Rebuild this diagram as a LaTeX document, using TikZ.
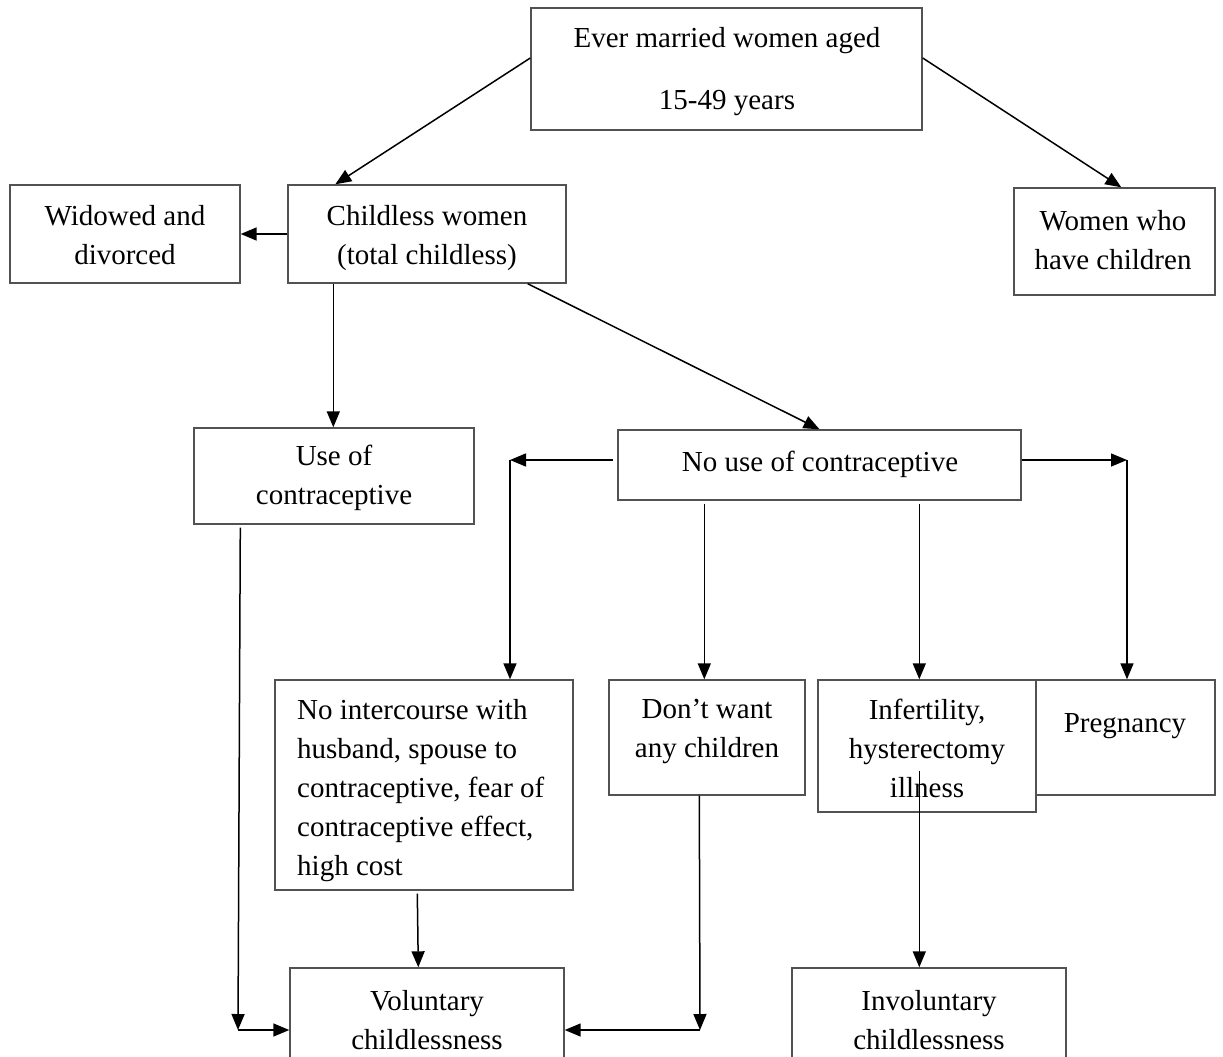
\documentclass[tikz,border=0pt]{standalone}
\usepackage{fontspec}
\setmainfont{Liberation Serif}
\usetikzlibrary{calc,arrows.meta}
\begin{document}
\begin{tikzpicture}[x=1pt,y=-1pt,
  box/.style={draw=black!68,line width=1.4pt,rectangle,inner sep=0pt},
  txt/.style={inner sep=0pt,align=center,font=\fontsize{29}{39}\selectfont},
  arr/.style={draw=black,line width=1.5pt,-{Triangle[length=16pt,width=13pt]}},
  ln/.style={draw=black,line width=1.5pt}]
\useasboundingbox[fill=white] (0,0) rectangle (1223,1057);
% boxes (center x, center y, width, height)
\node[box,minimum width=391pt,minimum height=122pt] (topbox) at (726.5,69) {};
\node[box,minimum width=230pt,minimum height=98pt] (widbox) at (125,234) {};
\node[box,minimum width=278pt,minimum height=98pt] (childbox) at (427,234) {};
\node[box,minimum width=201pt,minimum height=107pt] (havebox) at (1114.5,241.5) {};
\node[box,minimum width=280pt,minimum height=96pt] (usebox) at (334,476) {};
\node[box,minimum width=403pt,minimum height=70pt] (nousebox) at (819.5,465) {};
\node[box,minimum width=298pt,minimum height=210pt] (interbox) at (424,785) {};
\node[box,minimum width=196pt,minimum height=115pt] (dontbox) at (707,737.5) {};
\node[box,minimum width=218pt,minimum height=132pt] (infbox) at (927,746) {};
\node[box,minimum width=179pt,minimum height=115pt] (pregbox) at (1125.5,737.5) {};
\node[box,minimum width=274pt,minimum height=110pt] (volbox) at (427,1023) {};
\node[box,minimum width=274pt,minimum height=110pt] (involbox) at (929,1023) {};
% texts
\node[txt] (toptxt) at (727,72) {Ever married women aged\\[23pt]15-49 years};
\node[txt] (widtxt) at (125,235) {Widowed and\\divorced};
\node[txt] (childtxt) at (427,238) {Childless women\\(total childless)};
\node[txt] (havetxt) at (1113,240) {Women who\\have children};
\node[txt] (usetxt) at (334,478) {Use of\\contraceptive};
\node[txt] (nousetxt) at (820,464) {No use of contraceptive};
\node[txt,align=left,anchor=west] (intertxt) at (297,791) {No intercourse with\\husband, spouse to\\contraceptive, fear of\\contraceptive effect,\\high cost};
\node[txt] (donttxt) at (707,731) {Don’t want\\any children};
\node[txt] (inftxt) at (927,748) {Infertility,\\hysterectomy\\illness};
\node[txt] (pregtxt) at (1125,726) {Pregnancy};
\node[txt] (voltxt) at (427,1020) {Voluntary\\childlessness};
\node[txt] (involtxt) at (929,1020) {Involuntary\\childlessness};
% connectors
\draw[arr] ($(topbox.west)+(0,-11)$) -- ($(childbox.north west)+(48,0)$);
\draw[arr] ($(topbox.east)+(0,-11)$) -- ($(havebox.north west)+(108,0)$);
\draw[arr] (childbox.west) -- (childbox.west -| widbox.east);
\coordinate (c1) at ($(childbox.south west)+(46,0)$);
\draw[arr] (c1) -- (c1 |- usebox.north);
\draw[arr] ($(childbox.south east)+(-39,0)$) -- (nousebox.north);
\coordinate (lc) at (510,460);
\draw[arr] ($(nousebox.west)+(-4,-5)$) -- (lc);
\draw[arr] (lc) -- (lc |- interbox.north);
\coordinate (rc) at (1127,460);
\draw[arr] ($(nousebox.east)+(0,-5)$) -- (rc);
\draw[arr] (rc) -- (rc |- pregbox.north);
\coordinate (d1) at ($(nousebox.south west)+(87,3)$);
\draw[arr] (d1) -- (d1 |- dontbox.north);
\coordinate (i1) at ($(nousebox.south west)+(302,3)$);
\draw[arr] (i1) -- (i1 |- infbox.north);
\coordinate (ulc) at (238,1030);
\draw[arr] ($(usebox.south west)+(47,3)$) -- (ulc);
\draw[arr] (ulc) -- (ulc -| volbox.west);
\draw[arr] ($(interbox.south west)+(143,3)$) -- ($(volbox.north west)+(129,0)$);
\coordinate (drc) at (700,1030);
\draw[arr] ($(dontbox.south west)+(91,0)$) -- (drc);
\draw[arr] (drc) -- (drc -| volbox.east);
\coordinate (i2) at ($(infbox.south west)+(102,-42)$);
\draw[arr] (i2) -- (i2 |- involbox.north);
\end{tikzpicture}
\end{document}
